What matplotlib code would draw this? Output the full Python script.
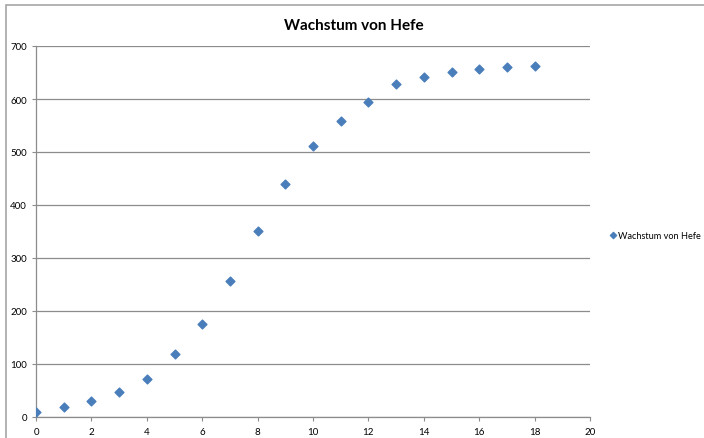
import matplotlib.pyplot as plt
from matplotlib.patches import Rectangle

# Data
hours = [0, 1, 2, 3, 4, 5, 6, 7, 8, 9, 10, 11, 12, 13, 14, 15, 16, 17, 18]
growth = [10, 19, 30, 47, 71, 119, 175, 257, 351, 440, 512, 559, 594, 628, 641, 651, 656, 660, 662]
series_name = "Wachstum von Hefe"
title = "Wachstum von Hefe"

plt.rcParams['font.family'] = ['Lato', 'DejaVu Sans']

fig = plt.figure(figsize=(7.04, 4.39), dpi=100)
ax = fig.add_axes([36 / 704, 21 / 439, 554 / 704, 371 / 439])

# outer chart border (left + top visible, rest runs off the image)
fig.patches.append(Rectangle((6 / 704, -0.1), 1.2, (439 - 6) / 439 + 0.1, transform=fig.transFigure,
                             fill=False, edgecolor='#a6a6a6', linewidth=1.2))

ax.scatter(hours, growth, marker='D', s=20, color='#4a7ebb', zorder=3, label=series_name)

ax.set_xlim(0, 20)
ax.set_ylim(0, 700)
ax.set_xticks(range(0, 21, 2))
ax.set_yticks(range(0, 701, 100))
ax.grid(axis='y', color='#8c8c8c', linewidth=0.9)
ax.set_axisbelow(True)

for side in ['top', 'right']:
    ax.spines[side].set_visible(False)
for side in ['left', 'bottom']:
    ax.spines[side].set_color('#8c8c8c')
    ax.spines[side].set_linewidth(0.9)

ax.tick_params(axis='both', labelsize=7, color='#8c8c8c', length=3, width=0.8)
ax.tick_params(axis='x', pad=4)

fig.text(0.503, 0.94, title, ha='center', va='center', fontsize=11, fontweight='bold')

ax.legend(loc='center left', bbox_to_anchor=(1.028, 0.49), frameon=False, fontsize=6.6,
          handlelength=0.6, handletextpad=0.3, borderpad=0, markerscale=0.7)

plt.savefig("out.png", dpi=100)
